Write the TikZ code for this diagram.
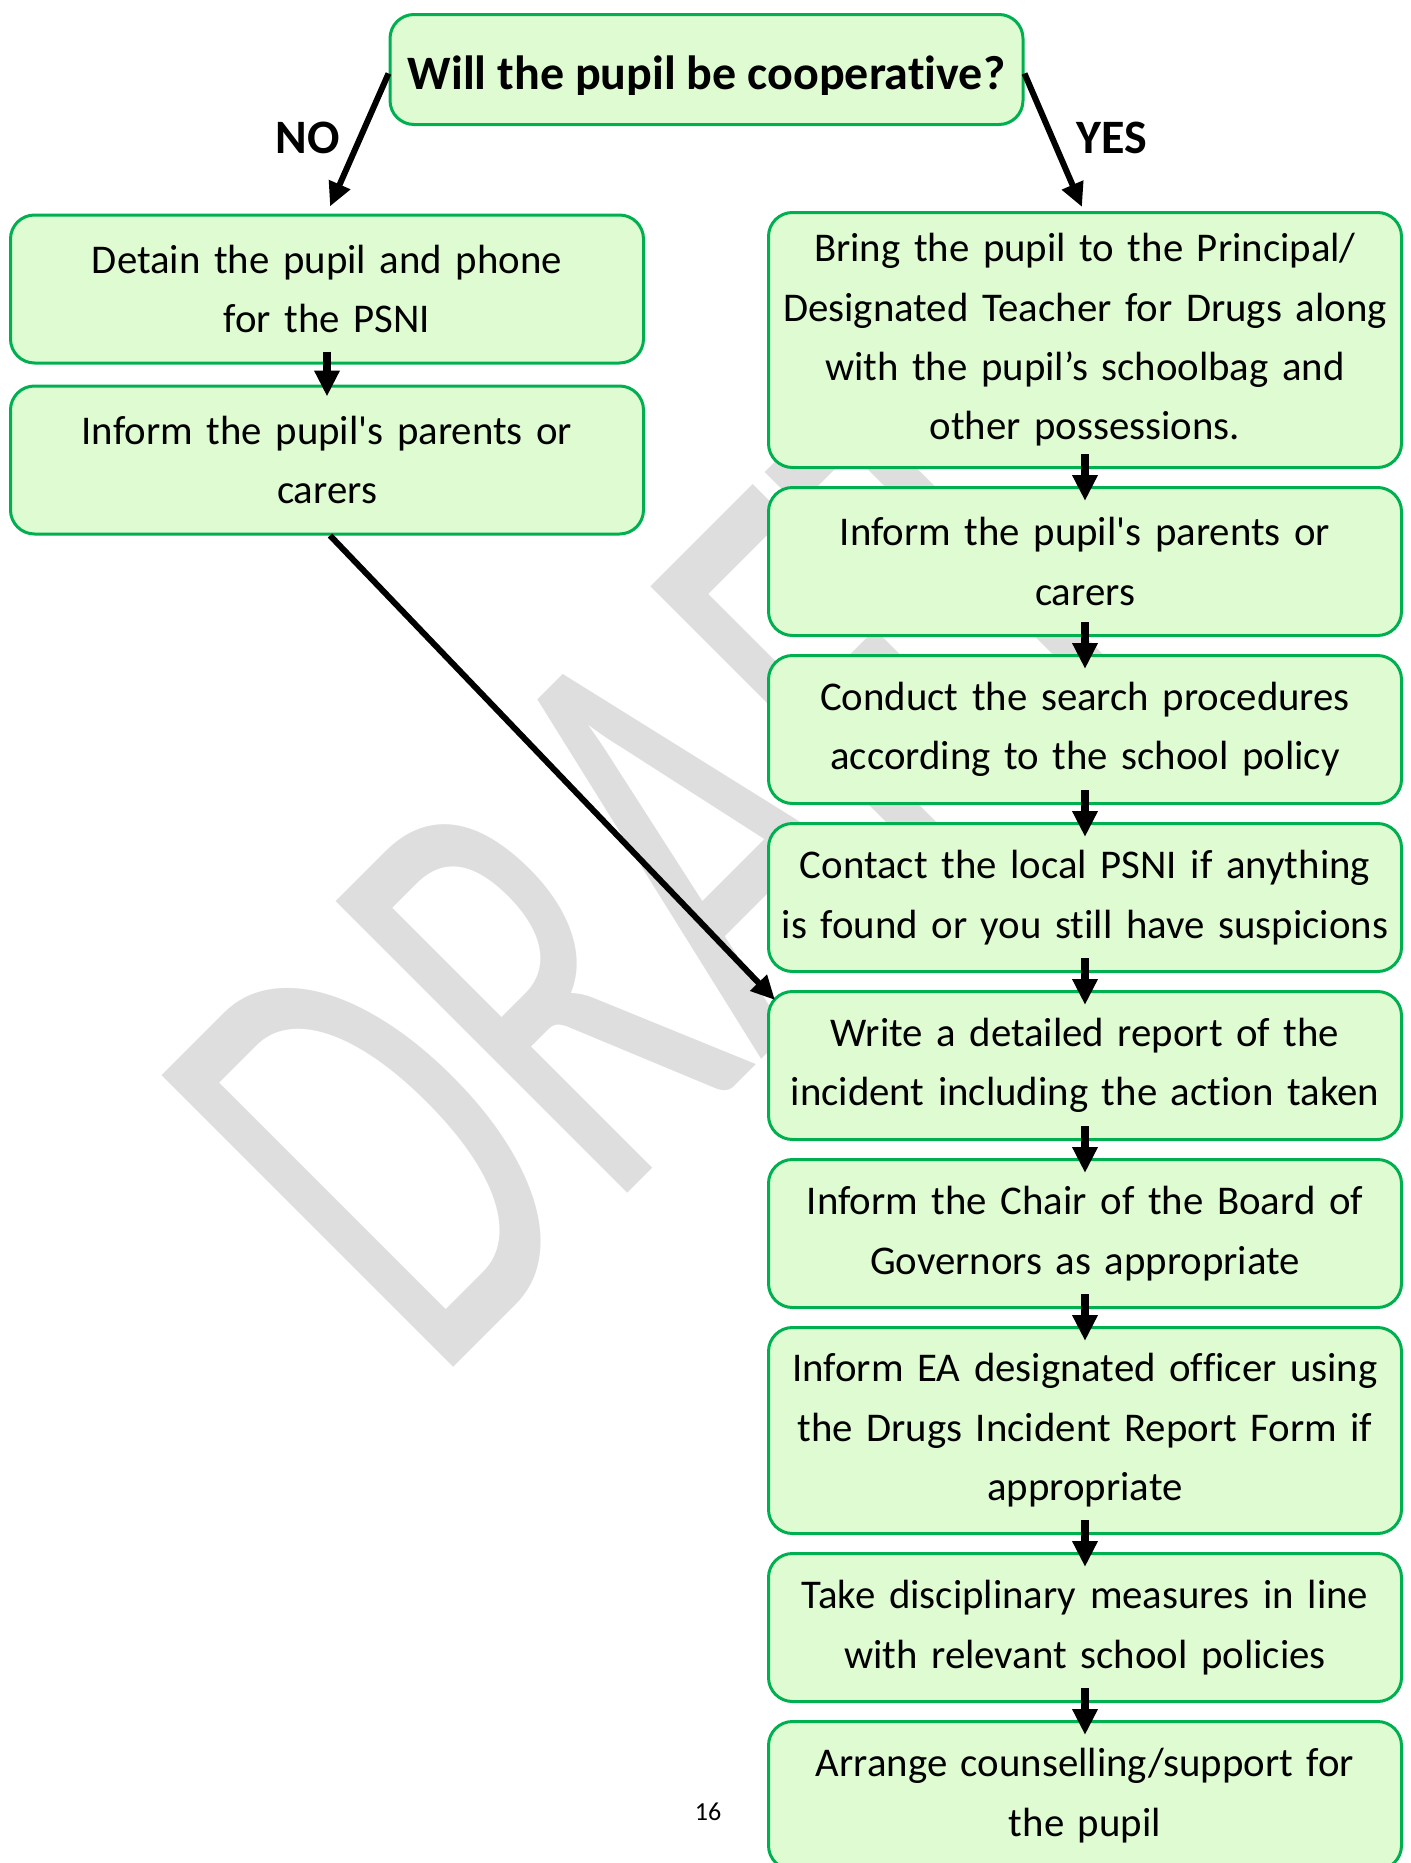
\documentclass[tikz,border=0pt]{standalone}
\usepackage{fontspec}
\setmainfont{Carlito}[Ligatures={TeX,NoCommon}]
\usepackage{xcolor}
\usetikzlibrary{positioning, chains, calc, arrows.meta}
\definecolor{boxgreen}{HTML}{00B050}
\definecolor{boxfill}{HTML}{DEFBD2}
\definecolor{wmgray}{HTML}{DEDEDE}

\begin{document}
\begin{tikzpicture}[x=0.5pt, y=-0.5pt, node distance = 8.5pt,
   stepbox/.style = {draw=boxgreen, line width=1.5pt, fill=boxfill,
     rounded corners=12pt, minimum width=316.5pt, minimum height=74pt,
     text width=314pt, inner xsep=1.25pt, align=center,
     font=\fontsize{20.4}{29.7}\selectfont},
   answer/.style = {font=\bfseries\fontsize{24}{28}\selectfont},
   link/.style = {line width=4pt, -{Triangle[width=12pt,length=13pt]}},
   branch/.style = {line width=3pt, -{Triangle[width=11pt,length=12pt]}}]
   \useasboundingbox (0,0) rectangle (1410,1863);
   % watermark
   \node[rotate=45, xscale=0.62, anchor=base west, inner sep=0pt, text=wmgray,
     font=\fontsize{321.5}{321.5}\selectfont] (draft) at (434,1387) {DRAFT};

   \node[stepbox, minimum height=55pt] (ask) at (706.5,69.5) {};
   \begin{scope}
     \clip (388,13) rectangle (1025,94);
     \node[answer, anchor=base] (asktext) at (706.5,89) {Will the pupil be cooperative?};
   \end{scope}
   \node[answer] (no)  at (308,138)  {NO};
   \node[answer] (yes) at (1112,138) {YES};

   \begin{scope}[start chain = going below, node distance = 10pt]
     \node[stepbox, on chain] (l1) at (327,289) {Detain the pupil and phone\\for the PSNI};
     \node[stepbox, on chain] (l2) {Inform the pupil\textquotesingle s parents or\\carers};
   \end{scope}

   \begin{scope}[start chain = going below]
     \node[stepbox, on chain, minimum height=127.5pt] (r1) at (1085,340)
       {Bring the pupil to the Principal/\\Designated Teacher for Drugs along\\with the pupil’s schoolbag and\\other possessions.};
     \node[stepbox, on chain] (r2) {Inform the pupil\textquotesingle s parents or\\carers};
     \node[stepbox, on chain] (r3) {Conduct the search procedures\\according to the school policy};
     \node[stepbox, on chain] (r4) {Contact the local PSNI if anything\\is found or you still have suspicions};
     \node[stepbox, on chain] (r5) {Write a detailed report of the\\incident including the action taken};
     \node[stepbox, on chain] (r6) {Inform the Chair of the Board of\\Governors as appropriate};
     \node[stepbox, on chain, minimum height=103pt] (r7)
       {Inform EA designated officer using\\the Drugs Incident Report Form if\\appropriate};
     \node[stepbox, on chain] (r8) {Take disciplinary measures in line\\with relevant school policies};
     \node[stepbox, on chain] (r9) {Arrange counselling/support for\\the pupil};
   \end{scope}

   \draw[branch] ([yshift=-2pt]ask.west) -- ([xshift=1.5pt,yshift=3.5pt]l1.north);
   \draw[branch] ([yshift=-2pt]ask.east) -- ([xshift=-1.5pt,yshift=2pt]r1.north);
   \draw[link] ([yshift=6.5pt]l1.south) -- ([yshift=-6pt]l2.north);
   \draw[branch] ([xshift=1.5pt]l2.south) -- ([xshift=4pt,yshift=-5pt]r5.north west);
   \foreach \i in {1,...,8} {
     \draw[link] let \n1 = { int(\i+1) } in
       ([yshift=7.5pt]r\i.south) -- ([yshift=-7.5pt]r\n1.north);
   }

   \node[font=\fontsize{13}{15}\selectfont] (page) at (708,1812) {16};
\end{tikzpicture}
\end{document}
